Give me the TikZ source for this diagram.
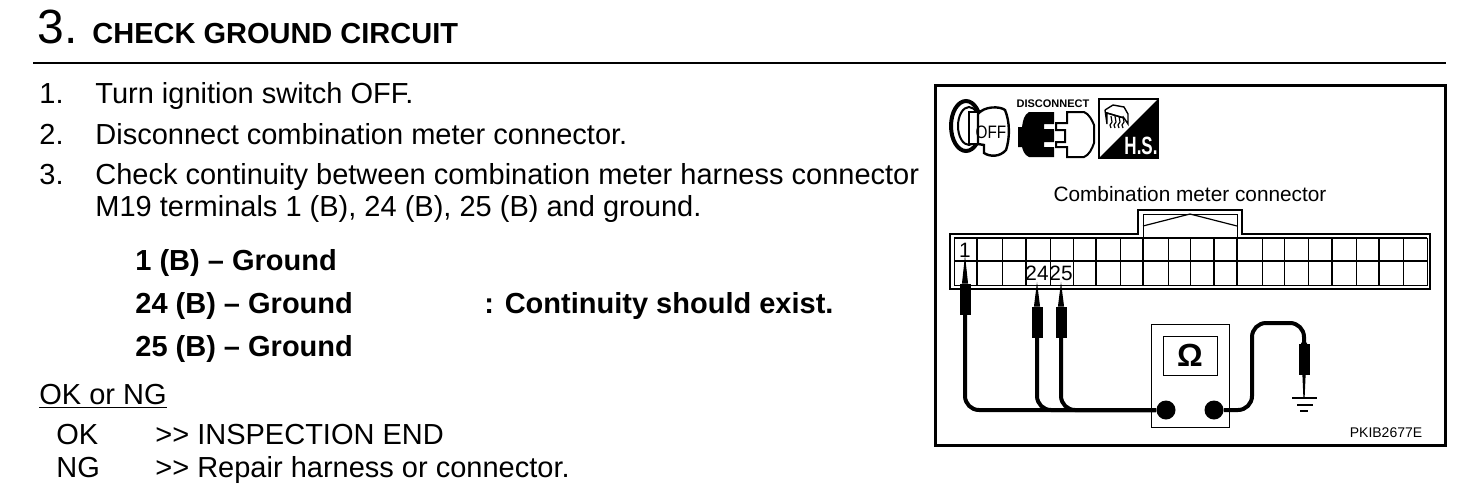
\documentclass[tikz,border=0pt]{standalone}
\usepackage{fontspec}
\setmainfont{Liberation Sans}
\usetikzlibrary{calc}
\begin{document}
\begin{tikzpicture}[x=0.5pt,y=-0.5pt]
\tikzset{line/.style = {anchor=base west,inner sep=0,font=\fontsize{14.5}{16}\selectfont}}
\tikzset{boldline/.style = {line,font=\fontsize{14.5}{16}\selectfont\bfseries}}
\tikzset{small/.style = {inner sep=0,font=\fontsize{10.4}{12}\selectfont}}
\tikzset{probe/.style = {fill=black,inner sep=0,minimum width=5.5pt,minimum height=15.5pt}}
\tikzset{term/.style = {circle,fill=black,inner sep=0,minimum size=9.5pt}}
\tikzset{wire/.style = {line width=2pt,rounded corners=7pt}}
\useasboundingbox (0,0) rectangle (1472,488);
% heading
\node[line,font=\fontsize{24}{28}\selectfont](num) at (37,43) {3.};
\node[line,font=\fontsize{14.5}{16}\selectfont\bfseries](title) at (92,43) {CHECK GROUND CIRCUIT};
\coordinate (ruleL) at (33,63);
\coordinate (ruleR) at (1446,63);
\draw[line width=1.3pt] (ruleL) -- (ruleR);
% steps
\node[line](n1) at (39,103) {1.};
\node[line](s1) at (95,103) {Turn ignition switch OFF.};
\node[line](n2) at (39,144) {2.};
\node[line](s2) at (95,144) {Disconnect combination meter connector.};
\node[line](n3) at (39,184) {3.};
\node[line](s3) at (95,184) {Check continuity between combination meter harness connector};
\node[line](s3b) at (95,216) {M19 terminals 1 (B), 24 (B), 25 (B) and ground.};
\node[boldline](c1) at (135,270) {1 (B) -- Ground};
\node[boldline](c2) at (135,313) {24 (B) -- Ground};
\node[boldline](c3) at (135,356) {25 (B) -- Ground};
\node[boldline](res) at (484,313) {: Continuity should exist.};
\node[line](ok) at (39,404) {\underline{OK or NG}};
\node[line](k1) at (56,444) {OK};
\node[line](k2) at (155,444) {>{}> INSPECTION END};
\node[line](g1) at (56,477) {NG};
\node[line](g2) at (155,477) {>{}> Repair harness or connector.};
% figure frame
\draw[line width=1.5pt] (935,85) rectangle (1445,445);
% key icon
\draw[line width=2pt,fill=white] (966,126) ellipse (15 and 25);
\draw[line width=1pt] (969,126) ellipse (11 and 19);
\draw[line width=1pt,fill=white] (969,112) -- (978,112) -- (978,144) -- (969,144) -- cycle;
\draw[line width=1.2pt,fill=white] (978,114) .. controls (984,106) and (1000,106) .. (1005,110)
  .. controls (1010,122) and (1010,138) .. (1006,150) .. controls (1000,157) and (990,157) .. (984,153)
  -- (984,145) -- (978,144) -- cycle;
\node[small,font=\fontsize{9}{10}\selectfont](off) at (991,132) {\scalebox{0.85}[1]{OFF}};
% disconnect icon
\node[small,font=\fontsize{5.5}{6}\selectfont\bfseries](disc) at (1053,104) {DISCONNECT};
\fill (1029,112) -- (1054,112) -- (1054,124) -- (1044,124) -- (1044,129) -- (1054,129) -- (1054,142)
  -- (1044,142) -- (1044,147) -- (1054,147) -- (1054,157) -- (1029,157)
  .. controls (1024,155) and (1023,150) .. (1022,147) -- (1018,147) -- (1018,127) -- (1022,127)
  .. controls (1023,120) and (1024,115) .. (1029,112) -- cycle;
\draw[line width=1pt,fill=white] (1056,123) -- (1067,123) -- (1067,112) -- (1084,112)
  .. controls (1089,114) and (1092,120) .. (1094,125)
  -- (1094,143) .. controls (1092,149) and (1089,155) .. (1084,157) -- (1067,157) -- (1067,147) -- (1056,147) -- (1056,142) -- (1065,142)
  -- (1065,130) -- (1056,130) -- cycle;
% harness icon
\draw[line width=1pt] (1099,99) rectangle (1158,158);
\fill (1158,99) -- (1158,158) -- (1099,158) -- cycle;
\draw[line width=0.7pt] (1105,110) -- (1113,105) -- (1124,107) -- (1128,114) -- (1128,124) -- (1124,118) -- (1107,113) -- (1107,124) -- (1105,110);
\draw[line width=0.7pt] (1107,113) -- (1124,118);
\foreach \x in {1111,1115,1119,1123}
  \draw[line width=0.6pt] (\x,116) -- (\x+1,122) -- (\x-1,125) -- (\x,128);
\node[small,text=white,font=\fontsize{12.5}{14}\selectfont\bfseries](hs) at (1141,146) {\scalebox{0.68}[1]{H.S.}};
% connector
\node[small](conn) at (1190,194) {Combination meter connector};
\draw[line width=0.9pt] (950,289) -- (950,234) -- (1138,234) -- (1138,210) -- (1242,210) -- (1242,234)
  -- (1430,234) -- (1430,289) -- cycle;
\draw[line width=0.5pt] (1143,238) -- (1143,214) -- (1237,214) -- (1237,238);
\draw[line width=0.6pt] (1143,226) -- (1190,214) -- (1237,226);
\draw[line width=1pt] (954,238) -- (1427,238) (954,261) -- (1427,261);
\draw[line width=0.5pt] (954,238) -- (954,285) -- (1427,285) -- (1427,238);
\foreach \x in {977,1026,1096,1143,1214,1237,1332,1379}
  \draw[line width=1pt] (\x,238) -- (\x,285);
\foreach \x in {1002,1050,1073,1120,1168,1190,1262,1284,1308,1356,1403}
  \draw[line width=0.5pt] (\x,238) -- (\x,285);
\node[small](t1) at (965,250) {1};
\node[small](t24) at (1037,273) {24};
\node[small](t25) at (1061,273) {25};
% meter
\draw[line width=0.5pt] (1151,324) rectangle (1229,427);
\node[draw,line width=0.5pt,inner sep=0,minimum width=27pt,minimum height=19.5pt,font=\fontsize{16}{18}\selectfont\bfseries](disp) at (1190,355.5) {Ω};
\node[term](termL) at (1166,410) {};
\node[term](termR) at (1214,410) {};
% probes
\node[probe](pr1) at (965,299) {};
\node[probe](pr24) at (1037,322) {};
\node[probe](pr25) at (1061,322) {};
\node[probe](prG) at (1304,359) {};
\coordinate (tip1) at (965,261);
\coordinate (tip24) at (1037,287);
\coordinate (tip25) at (1061,287);
\coordinate (tipG) at (1304,398);
\foreach \p/\t in {pr1/tip1,pr24/tip24,pr25/tip25,prG/tipG}
  \filldraw[line width=0.6pt] ($(\p.north west)+(3.5,0)$) -- (\t) -- ($(\p.north east)+(-3.5,0)$) -- cycle;
\draw[wire] (pr1.south) |- (termL);
\draw[wire] (pr24.south) |- (termL);
\draw[wire] (pr25.south) |- (termL);
\coordinate (wireTop) at (1252,323);
\draw[wire] (termR) -| (wireTop) -| (prG.north);
% ground
\draw[line width=1pt] (1292,398) -- (1317,398) (1297,405) -- (1313,405) (1300,411) -- (1308,411);
\node[small,font=\fontsize{7}{8}\selectfont](code) at (1386,433) {PKIB2677E};
\end{tikzpicture}
\end{document}
